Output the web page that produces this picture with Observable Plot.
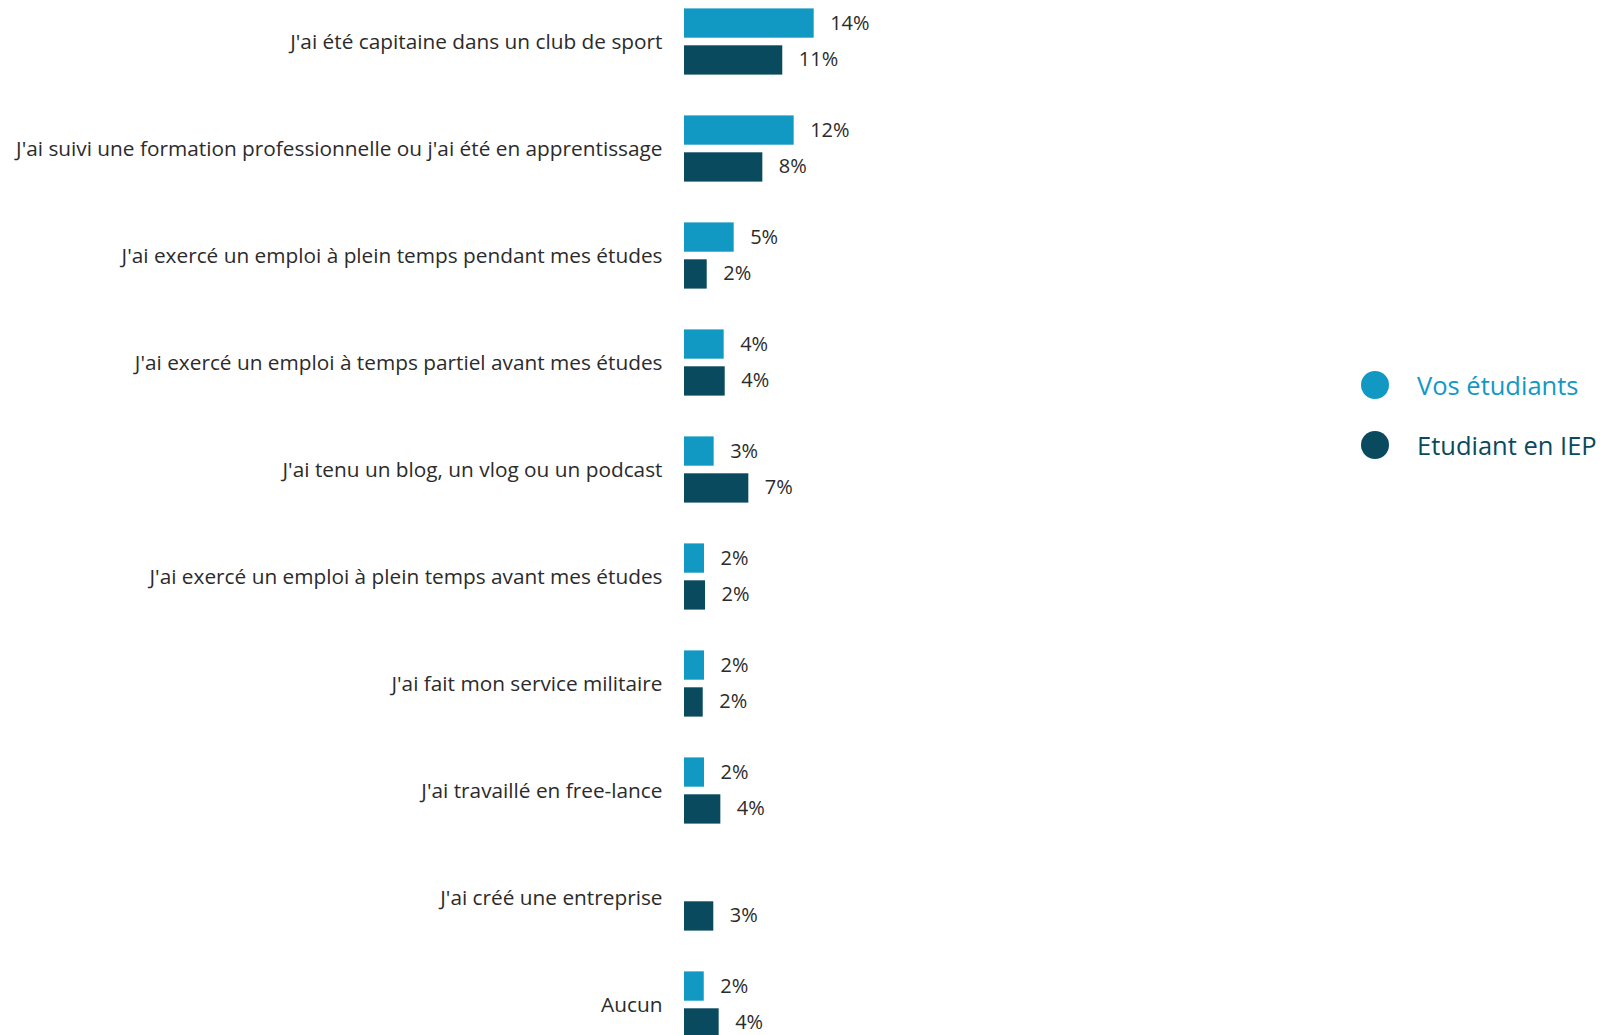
<!DOCTYPE html>
<html>
<head>
<meta charset="utf-8">
<script src="https://cdn.jsdelivr.net/npm/d3@7"></script>
<script src="https://cdn.jsdelivr.net/npm/@observablehq/plot@0.6"></script>
<style>
  html, body { margin: 0; padding: 0; background: #fff; overflow: hidden; }
  #wrap { position: relative; width: 1601px; height: 1035px; }
  #legend { position: absolute; left: 1361px; top: 355px; font-family: "Open Sans", sans-serif; font-size: 25.5px; }
  .item { display: flex; align-items: center; height: 60px; }
  .sw { width: 28px; height: 28px; border-radius: 50%; margin-right: 28px; }
</style>
</head>
<body>
<div id="wrap"><div id="chart"></div><div id="legend"></div></div>
<script>
const categories = [
  "J'ai été capitaine dans un club de sport",
  "J'ai suivi une formation professionnelle ou j'ai été en apprentissage",
  "J'ai exercé un emploi à plein temps pendant mes études",
  "J'ai exercé un emploi à temps partiel avant mes études",
  "J'ai tenu un blog, un vlog ou un podcast",
  "J'ai exercé un emploi à plein temps avant mes études",
  "J'ai fait mon service militaire",
  "J'ai travaillé en free-lance",
  "J'ai créé une entreprise",
  "Aucun"
];
const vosEtudiants = [13.99, 11.83, 5.36, 4.28, 3.20, 2.16, 2.16, 2.16, null, 2.13];
const etudiantIEP  = [10.60, 8.45, 2.45, 4.39, 6.94, 2.27, 2.02, 3.92, 3.16, 3.74];
const seriesNames = ["Vos étudiants", "Etudiant en IEP"];
const seriesColors = ["#1199c4", "#0a4a5e"];

const vosData = categories.map((c, i) => ({cat: c, v: vosEtudiants[i]})).filter(d => d.v != null);
const iepData = categories.map((c, i) => ({cat: c, v: etudiantIEP[i]})).filter(d => d.v != null);
const fmt = d => Math.round(d.v) + "%";

const font = "'Open Sans', sans-serif";
const chart = Plot.plot({
  width: 1601,
  height: 1035,
  marginLeft: 684,
  marginRight: 0,
  marginTop: 0,
  marginBottom: 0,
  style: {fontFamily: font, fontSize: "20px", color: "#2b2b2b", background: "#fff"},
  x: {domain: [0, 100], range: [684, 1611], axis: null},
  y: {domain: categories, range: [-13.08, 1058.6], padding: 0, label: null},
  marks: [
    Plot.axisY({tickSize: 0, tickPadding: 22, fontSize: 20.8, label: null}),
    Plot.barX(vosData, {y: "cat", x: "v", fill: seriesColors[0], insetTop: 20.4, insetBottom: 57.3}),
    Plot.barX(iepData, {y: "cat", x: "v", fill: seriesColors[1], insetTop: 57.3, insetBottom: 20.4}),
    Plot.text(vosData, {y: "cat", x: "v", text: fmt, dx: 16, dy: -18, textAnchor: "start", fontSize: 20, fill: "#2b2b2b"}),
    Plot.text(iepData, {y: "cat", x: "v", text: fmt, dx: 16, dy: 18, textAnchor: "start", fontSize: 20, fill: "#2b2b2b"})
  ]
});
document.getElementById("chart").appendChild(chart);

const legend = document.getElementById("legend");
seriesNames.forEach((n, i) => {
  const it = document.createElement("div");
  it.className = "item";
  it.innerHTML = `<span class="sw" style="background:${seriesColors[i]}"></span><span style="color:${seriesColors[i]}">${n}</span>`;
  legend.appendChild(it);
});
</script>
</body>
</html>
